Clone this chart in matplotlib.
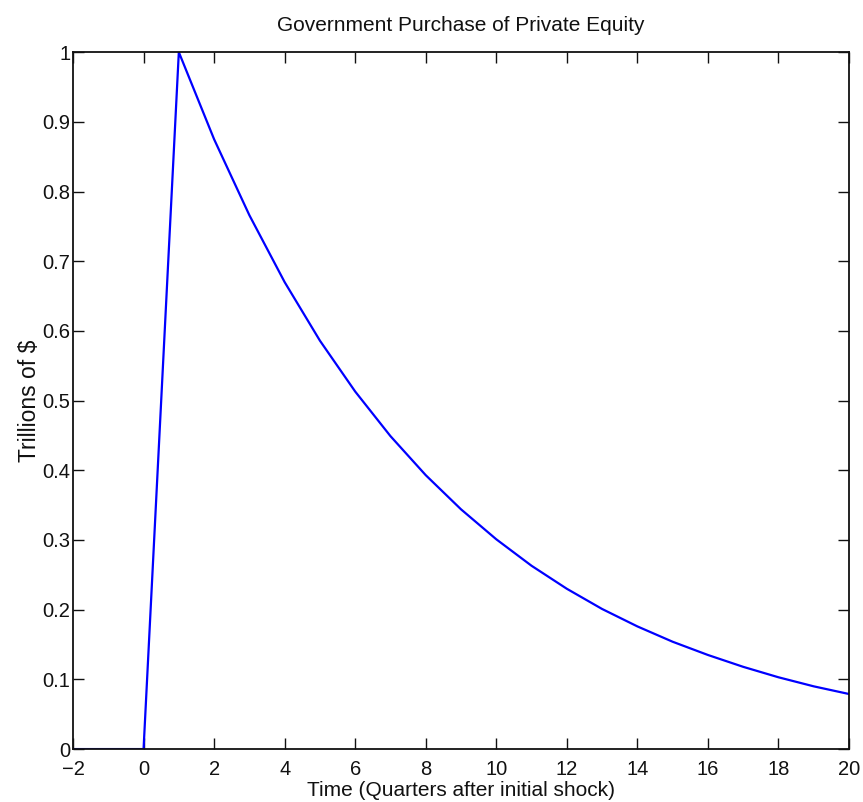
import numpy as np
import matplotlib
matplotlib.use("Agg")
import matplotlib.pyplot as plt

# quarters after the shock and the equity holdings (trillions of dollars)
quarters = [-2, -1, 0, 1, 2, 3, 4, 5, 6, 7, 8, 9, 10,
            11, 12, 13, 14, 15, 16, 17, 18, 19, 20]
equity = [0.0, 0.0, 0.0, 1.000, 0.875, 0.766, 0.670, 0.586, 0.513, 0.449,
          0.393, 0.344, 0.301, 0.263, 0.230, 0.201, 0.176, 0.154, 0.135,
          0.118, 0.103, 0.090, 0.079]

xticks = [-2, 0, 2, 4, 6, 8, 10, 12, 14, 16, 18, 20]
yticks = [0, 0.1, 0.2, 0.3, 0.4, 0.5, 0.6, 0.7, 0.8, 0.9, 1]
yticklabels = ["0", "0.1", "0.2", "0.3", "0.4", "0.5", "0.6", "0.7", "0.8", "0.9", "1"]

plt.rcParams['font.family'] = ['Liberation Sans', 'DejaVu Sans']

fig = plt.figure(figsize=(8.63, 8.02), dpi=100)
ax = fig.add_axes([0.0846, 0.066, 0.8992, 0.869])

ax.plot(quarters, equity, color='#0000ff', lw=1.6)

ax.set_xlim(-2, 20)
ax.set_ylim(0, 1)
ax.set_xticks(xticks)
ax.set_yticks(yticks)
ax.set_yticklabels(yticklabels)
ax.tick_params(direction='in', length=8, width=1, top=True, right=True,
               labelsize=14.5, colors='#111111')
ax.tick_params(axis='x', pad=8)
ax.tick_params(axis='y', pad=2)
for s in ax.spines.values():
    s.set_linewidth(1.3)
    s.set_color('#111111')

ax.set_title("Government Purchase of Private Equity", fontsize=15, pad=15,
             color='#111111')
ax.set_xlabel("Time (Quarters after initial shock)", fontsize=15, labelpad=1,
              color='#111111')
ax.set_ylabel("Trillions of $", fontsize=16.5, labelpad=1, color='#111111')

fig.savefig("out.png", dpi=100)
